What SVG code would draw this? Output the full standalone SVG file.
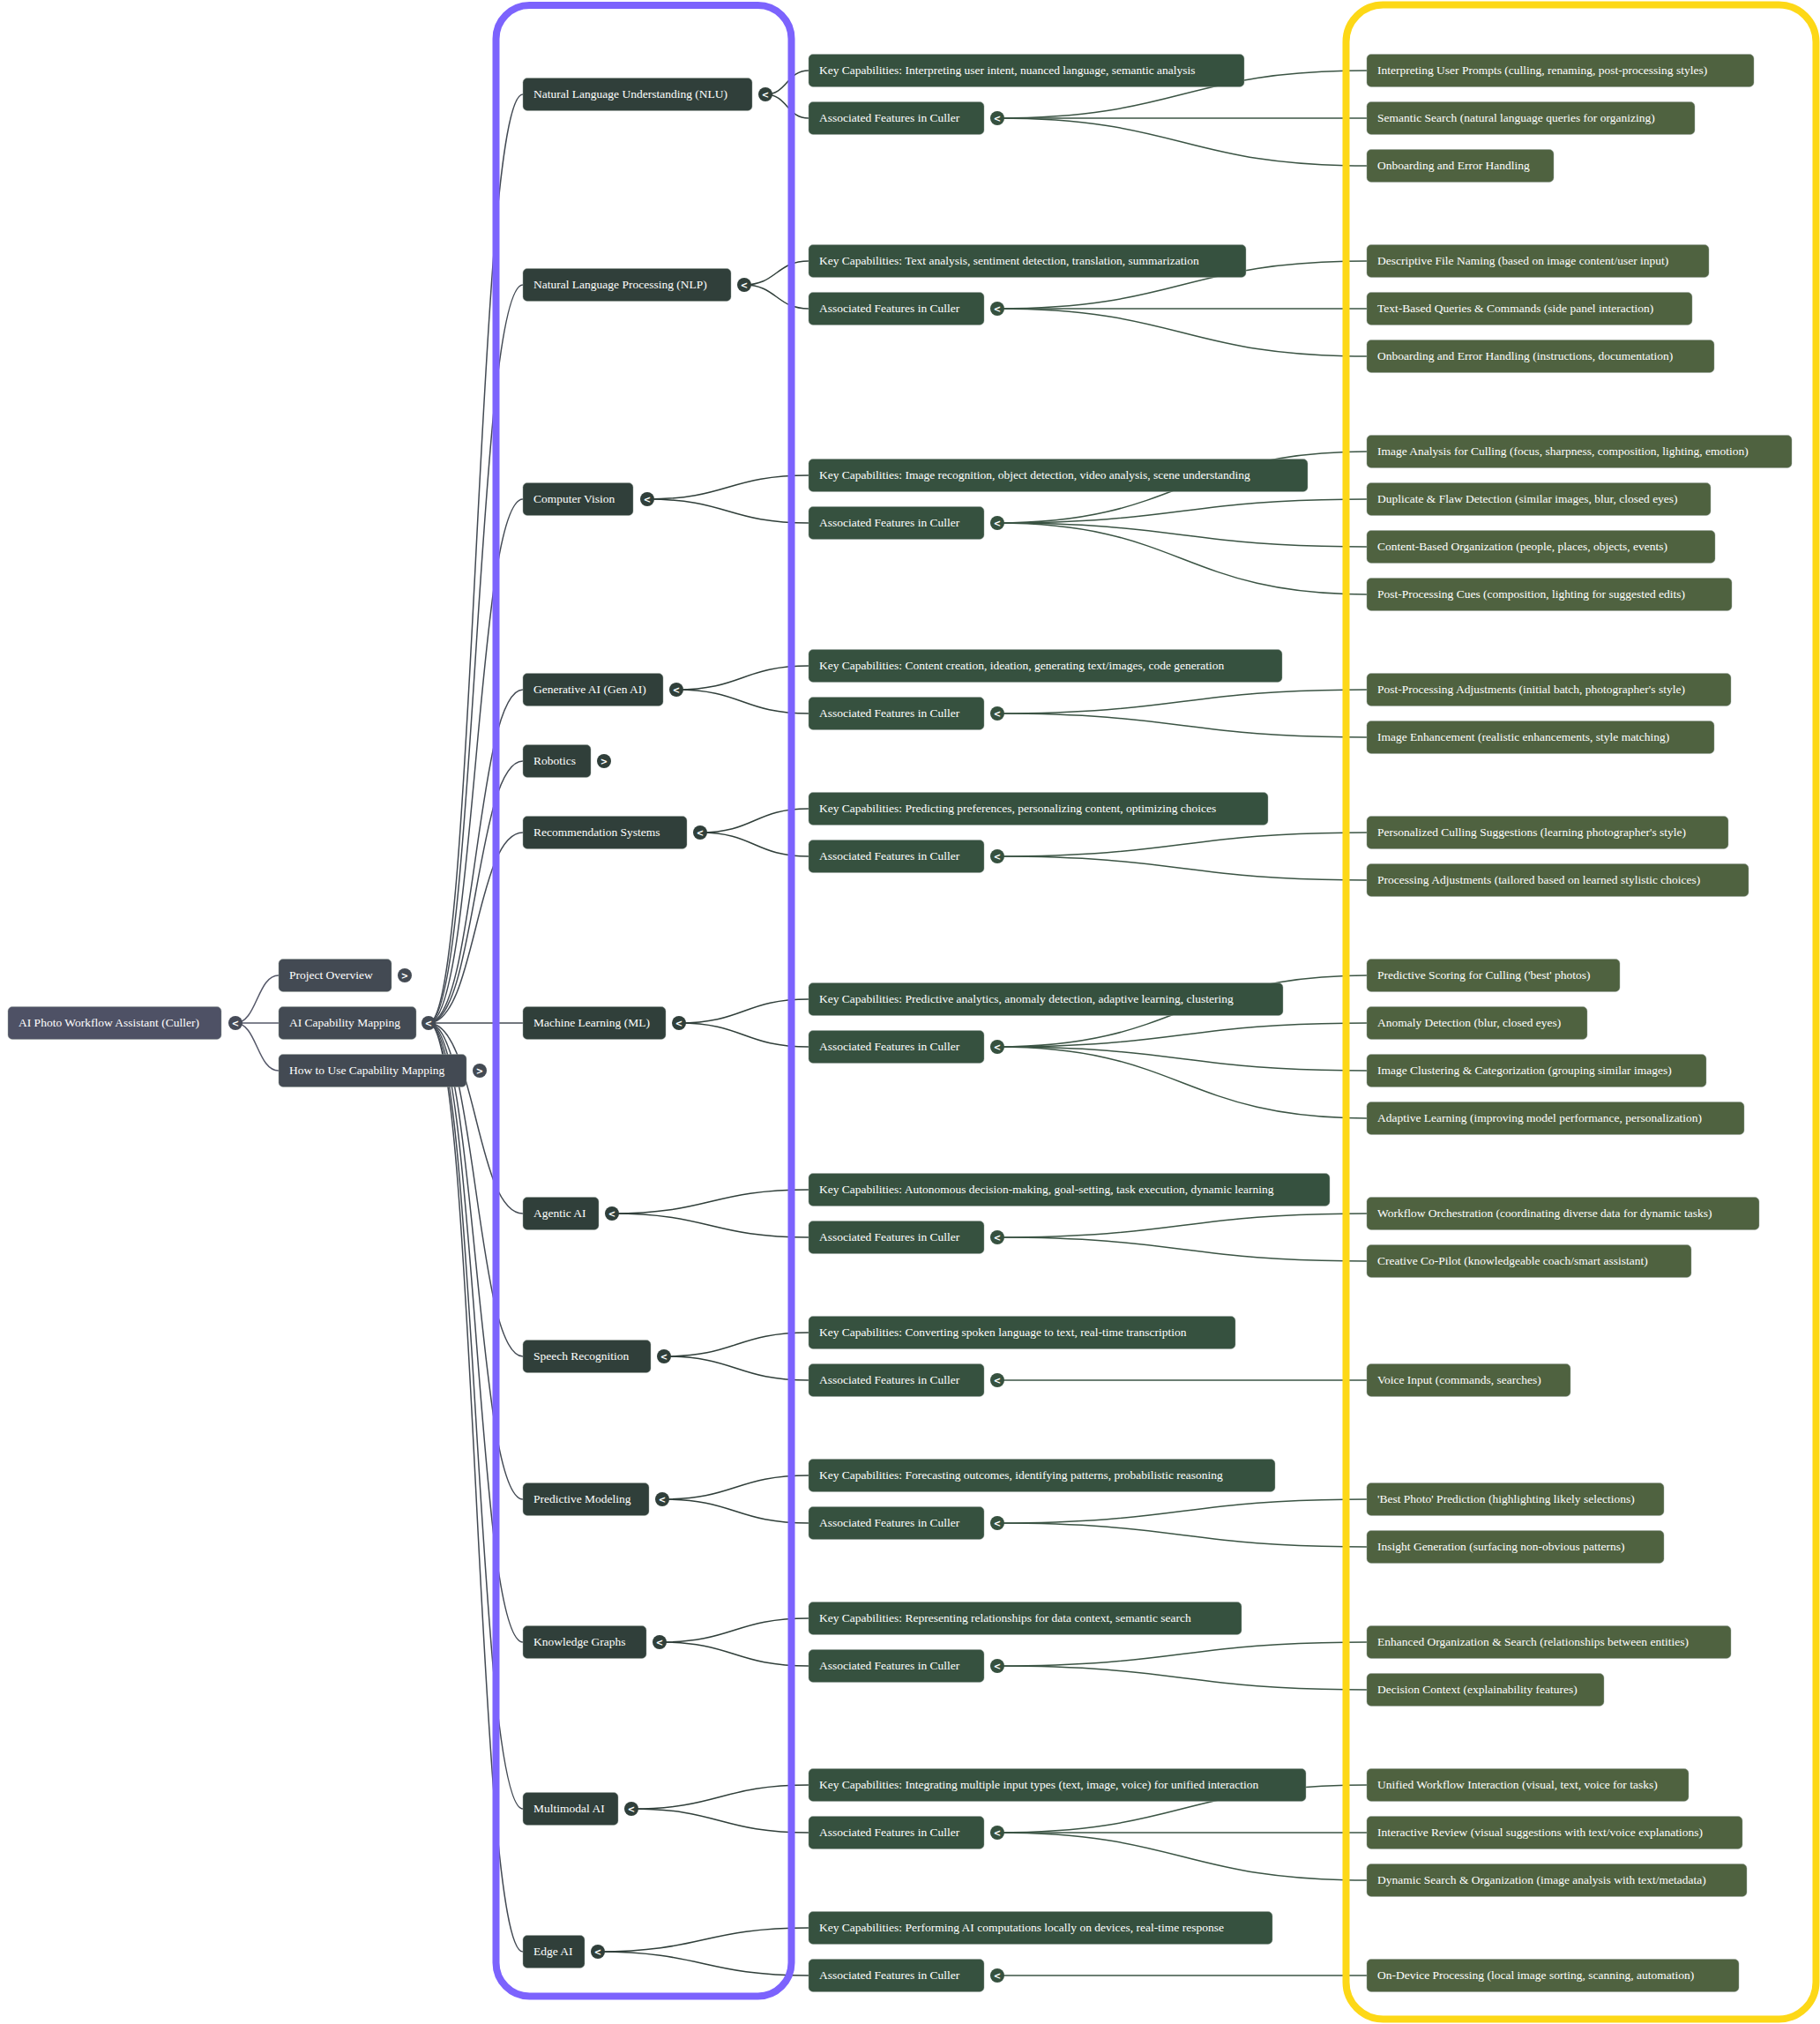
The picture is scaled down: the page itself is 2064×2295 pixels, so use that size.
<svg xmlns="http://www.w3.org/2000/svg" width="2064" height="2295" viewBox="0 0 2064 2295">
<style>
.bg{fill:#ffffff}
.nd rect{stroke:#9aa39e;stroke-opacity:.45;stroke-width:1}
.r0{fill:#4e5165}
.r1{fill:#434a53}
.r2{fill:#303f3a}
.r3{fill:#36513f}
.r4{fill:#4f6240}
.t{font-family:"Liberation Serif","Times New Roman",serif;font-size:13.5px;fill:#ffffff}
.ch{font-family:"DejaVu Sans",sans-serif;font-size:10px;font-weight:bold;fill:#ffffff;text-anchor:middle}
.lk path{fill:none;stroke-width:1.5}
.l0{stroke:#555869}
.l1{stroke:#434a53}
.l2{stroke:#303f3a}
.l3{stroke:#3b5444}
.frame{fill:none;stroke-width:8}
</style>
<rect class="bg" x="0" y="0" width="2064" height="2295"/>

<g id="connectors" class="lk">
<path class="l0" d="M267 1160 C291.5 1160 291.5 1106 316 1106"/>
<path class="l0" d="M267 1160 L316 1160"/>
<path class="l0" d="M267 1160 C291.5 1160 291.5 1214 316 1214"/>

<path class="l1" d="M486 1160 C539.5 1160 539.5 107 593 107"/>
<path class="l1" d="M486 1160 C539.5 1160 539.5 323 593 323"/>
<path class="l1" d="M486 1160 C539.5 1160 539.5 566 593 566"/>
<path class="l1" d="M486 1160 C539.5 1160 539.5 782 593 782"/>
<path class="l1" d="M486 1160 C539.5 1160 539.5 863 593 863"/>
<path class="l1" d="M486 1160 C539.5 1160 539.5 944 593 944"/>
<path class="l1" d="M486 1160 L593 1160"/>
<path class="l1" d="M486 1160 C539.5 1160 539.5 1376 593 1376"/>
<path class="l1" d="M486 1160 C539.5 1160 539.5 1538 593 1538"/>
<path class="l1" d="M486 1160 C539.5 1160 539.5 1700 593 1700"/>
<path class="l1" d="M486 1160 C539.5 1160 539.5 1862 593 1862"/>
<path class="l1" d="M486 1160 C539.5 1160 539.5 2051 593 2051"/>
<path class="l1" d="M486 1160 C539.5 1160 539.5 2213 593 2213"/>

<path class="l2" d="M868 107 C892.5 107 892.5 80 917 80"/>
<path class="l2" d="M868 107 C892.5 107 892.5 134 917 134"/>
<path class="l2" d="M844 323 C880.5 323 880.5 296 917 296"/>
<path class="l2" d="M844 323 C880.5 323 880.5 350 917 350"/>
<path class="l2" d="M734 566 C825.5 566 825.5 539 917 539"/>
<path class="l2" d="M734 566 C825.5 566 825.5 593 917 593"/>
<path class="l2" d="M767 782 C842 782 842 755 917 755"/>
<path class="l2" d="M767 782 C842 782 842 809 917 809"/>
<path class="l2" d="M794 944 C855.5 944 855.5 917 917 917"/>
<path class="l2" d="M794 944 C855.5 944 855.5 971 917 971"/>
<path class="l2" d="M770 1160 C843.5 1160 843.5 1133 917 1133"/>
<path class="l2" d="M770 1160 C843.5 1160 843.5 1187 917 1187"/>
<path class="l2" d="M694 1376 C805.5 1376 805.5 1349 917 1349"/>
<path class="l2" d="M694 1376 C805.5 1376 805.5 1403 917 1403"/>
<path class="l2" d="M753 1538 C835 1538 835 1511 917 1511"/>
<path class="l2" d="M753 1538 C835 1538 835 1565 917 1565"/>
<path class="l2" d="M751 1700 C834 1700 834 1673 917 1673"/>
<path class="l2" d="M751 1700 C834 1700 834 1727 917 1727"/>
<path class="l2" d="M748 1862 C832.5 1862 832.5 1835 917 1835"/>
<path class="l2" d="M748 1862 C832.5 1862 832.5 1889 917 1889"/>
<path class="l2" d="M716 2051 C816.5 2051 816.5 2024 917 2024"/>
<path class="l2" d="M716 2051 C816.5 2051 816.5 2078 917 2078"/>
<path class="l2" d="M678 2213 C797.5 2213 797.5 2186 917 2186"/>
<path class="l2" d="M678 2213 C797.5 2213 797.5 2240 917 2240"/>

<path class="l3" d="M1131 134 C1340.5 134 1340.5 80 1550 80"/>
<path class="l3" d="M1131 134 L1550 134"/>
<path class="l3" d="M1131 134 C1340.5 134 1340.5 188 1550 188"/>
<path class="l3" d="M1131 350 C1340.5 350 1340.5 296 1550 296"/>
<path class="l3" d="M1131 350 L1550 350"/>
<path class="l3" d="M1131 350 C1340.5 350 1340.5 404 1550 404"/>
<path class="l3" d="M1131 593 C1340.5 593 1340.5 512 1550 512"/>
<path class="l3" d="M1131 593 C1340.5 593 1340.5 566 1550 566"/>
<path class="l3" d="M1131 593 C1340.5 593 1340.5 620 1550 620"/>
<path class="l3" d="M1131 593 C1340.5 593 1340.5 674 1550 674"/>
<path class="l3" d="M1131 809 C1340.5 809 1340.5 782 1550 782"/>
<path class="l3" d="M1131 809 C1340.5 809 1340.5 836 1550 836"/>
<path class="l3" d="M1131 971 C1340.5 971 1340.5 944 1550 944"/>
<path class="l3" d="M1131 971 C1340.5 971 1340.5 998 1550 998"/>
<path class="l3" d="M1131 1187 C1340.5 1187 1340.5 1106 1550 1106"/>
<path class="l3" d="M1131 1187 C1340.5 1187 1340.5 1160 1550 1160"/>
<path class="l3" d="M1131 1187 C1340.5 1187 1340.5 1214 1550 1214"/>
<path class="l3" d="M1131 1187 C1340.5 1187 1340.5 1268 1550 1268"/>
<path class="l3" d="M1131 1403 C1340.5 1403 1340.5 1376 1550 1376"/>
<path class="l3" d="M1131 1403 C1340.5 1403 1340.5 1430 1550 1430"/>
<path class="l3" d="M1131 1565 L1550 1565"/>
<path class="l3" d="M1131 1727 C1340.5 1727 1340.5 1700 1550 1700"/>
<path class="l3" d="M1131 1727 C1340.5 1727 1340.5 1754 1550 1754"/>
<path class="l3" d="M1131 1889 C1340.5 1889 1340.5 1862 1550 1862"/>
<path class="l3" d="M1131 1889 C1340.5 1889 1340.5 1916 1550 1916"/>
<path class="l3" d="M1131 2078 C1340.5 2078 1340.5 2024 1550 2024"/>
<path class="l3" d="M1131 2078 L1550 2078"/>
<path class="l3" d="M1131 2078 C1340.5 2078 1340.5 2132 1550 2132"/>
<path class="l3" d="M1131 2240 L1550 2240"/>
</g>

<rect class="frame" x="562.5" y="6" width="335" height="2257.5" rx="38" stroke="#7c63fd"/>
<rect class="frame" x="1526.5" y="5.5" width="533" height="2284" rx="42" stroke="#fdd817"/>

<g id="n-root" class="nd"><rect class="r0" x="9" y="1141.5" width="242" height="37" rx="5"/><text class="t" x="21" y="1163.5">AI Photo Workflow Assistant (Culler)</text><circle cx="267" cy="1160" r="8" fill="#464b58"/><text class="ch" x="267" y="1163.6">&lt;</text></g>

<g id="n-overview" class="nd"><rect class="r1" x="316" y="1087.5" width="128" height="37" rx="5"/><text class="t" x="328" y="1109.5">Project Overview</text><circle cx="459" cy="1106" r="8" fill="#434a53"/><text class="ch" x="459" y="1109.6">&gt;</text></g>
<g id="n-mapping" class="nd"><rect class="r1" x="316" y="1141.5" width="156" height="37" rx="5"/><text class="t" x="328" y="1163.5">AI Capability Mapping</text><circle cx="486" cy="1160" r="8" fill="#434a53"/><text class="ch" x="486" y="1163.6">&lt;</text></g>
<g id="n-howto" class="nd"><rect class="r1" x="316" y="1195.5" width="213" height="37" rx="5"/><text class="t" x="328" y="1217.5">How to Use Capability Mapping</text><circle cx="544" cy="1214" r="8" fill="#434a53"/><text class="ch" x="544" y="1217.6">&gt;</text></g>

<g id="n-nlu" class="nd"><rect class="r2" x="593" y="88.5" width="260" height="37" rx="5"/><text class="t" x="605" y="110.5">Natural Language Understanding (NLU)</text><circle cx="868" cy="107" r="8" fill="#303f3a"/><text class="ch" x="868" y="110.6">&lt;</text></g>
<g id="n-nlp" class="nd"><rect class="r2" x="593" y="304.5" width="236" height="37" rx="5"/><text class="t" x="605" y="326.5">Natural Language Processing (NLP)</text><circle cx="844" cy="323" r="8" fill="#303f3a"/><text class="ch" x="844" y="326.6">&lt;</text></g>
<g id="n-cv" class="nd"><rect class="r2" x="593" y="547.5" width="125" height="37" rx="5"/><text class="t" x="605" y="569.5">Computer Vision</text><circle cx="734" cy="566" r="8" fill="#303f3a"/><text class="ch" x="734" y="569.6">&lt;</text></g>
<g id="n-genai" class="nd"><rect class="r2" x="593" y="763.5" width="159" height="37" rx="5"/><text class="t" x="605" y="785.5">Generative AI (Gen AI)</text><circle cx="767" cy="782" r="8" fill="#303f3a"/><text class="ch" x="767" y="785.6">&lt;</text></g>
<g id="n-robotics" class="nd"><rect class="r2" x="593" y="844.5" width="77" height="37" rx="5"/><text class="t" x="605" y="866.5">Robotics</text><circle cx="685" cy="863" r="8" fill="#303f3a"/><text class="ch" x="685" y="866.6">&gt;</text></g>
<g id="n-recsys" class="nd"><rect class="r2" x="593" y="925.5" width="186" height="37" rx="5"/><text class="t" x="605" y="947.5">Recommendation Systems</text><circle cx="794" cy="944" r="8" fill="#303f3a"/><text class="ch" x="794" y="947.6">&lt;</text></g>
<g id="n-ml" class="nd"><rect class="r2" x="593" y="1141.5" width="162" height="37" rx="5"/><text class="t" x="605" y="1163.5">Machine Learning (ML)</text><circle cx="770" cy="1160" r="8" fill="#303f3a"/><text class="ch" x="770" y="1163.6">&lt;</text></g>
<g id="n-agentic" class="nd"><rect class="r2" x="593" y="1357.5" width="86" height="37" rx="5"/><text class="t" x="605" y="1379.5">Agentic AI</text><circle cx="694" cy="1376" r="8" fill="#303f3a"/><text class="ch" x="694" y="1379.6">&lt;</text></g>
<g id="n-speech" class="nd"><rect class="r2" x="593" y="1519.5" width="145" height="37" rx="5"/><text class="t" x="605" y="1541.5">Speech Recognition</text><circle cx="753" cy="1538" r="8" fill="#303f3a"/><text class="ch" x="753" y="1541.6">&lt;</text></g>
<g id="n-predictive" class="nd"><rect class="r2" x="593" y="1681.5" width="143" height="37" rx="5"/><text class="t" x="605" y="1703.5">Predictive Modeling</text><circle cx="751" cy="1700" r="8" fill="#303f3a"/><text class="ch" x="751" y="1703.6">&lt;</text></g>
<g id="n-knowledge" class="nd"><rect class="r2" x="593" y="1843.5" width="140" height="37" rx="5"/><text class="t" x="605" y="1865.5">Knowledge Graphs</text><circle cx="748" cy="1862" r="8" fill="#303f3a"/><text class="ch" x="748" y="1865.6">&lt;</text></g>
<g id="n-multimodal" class="nd"><rect class="r2" x="593" y="2032.5" width="108" height="37" rx="5"/><text class="t" x="605" y="2054.5">Multimodal AI</text><circle cx="716" cy="2051" r="8" fill="#303f3a"/><text class="ch" x="716" y="2054.6">&lt;</text></g>
<g id="n-edge" class="nd"><rect class="r2" x="593" y="2194.5" width="70" height="37" rx="5"/><text class="t" x="605" y="2216.5">Edge AI</text><circle cx="678" cy="2213" r="8" fill="#303f3a"/><text class="ch" x="678" y="2216.6">&lt;</text></g>

<g id="n-nlu-key" class="nd"><rect class="r3" x="917" y="61.5" width="494" height="37" rx="5"/><text class="t" x="929" y="83.5">Key Capabilities: Interpreting user intent, nuanced language, semantic analysis</text></g>
<g id="n-nlu-feat" class="nd"><rect class="r3" x="917" y="115.5" width="199" height="37" rx="5"/><text class="t" x="929" y="137.5">Associated Features in Culler</text><circle cx="1131" cy="134" r="8" fill="#36513f"/><text class="ch" x="1131" y="137.6">&lt;</text></g>
<g id="n-nlp-key" class="nd"><rect class="r3" x="917" y="277.5" width="496" height="37" rx="5"/><text class="t" x="929" y="299.5">Key Capabilities: Text analysis, sentiment detection, translation, summarization</text></g>
<g id="n-nlp-feat" class="nd"><rect class="r3" x="917" y="331.5" width="199" height="37" rx="5"/><text class="t" x="929" y="353.5">Associated Features in Culler</text><circle cx="1131" cy="350" r="8" fill="#36513f"/><text class="ch" x="1131" y="353.6">&lt;</text></g>
<g id="n-cv-key" class="nd"><rect class="r3" x="917" y="520.5" width="566" height="37" rx="5"/><text class="t" x="929" y="542.5">Key Capabilities: Image recognition, object detection, video analysis, scene understanding</text></g>
<g id="n-cv-feat" class="nd"><rect class="r3" x="917" y="574.5" width="199" height="37" rx="5"/><text class="t" x="929" y="596.5">Associated Features in Culler</text><circle cx="1131" cy="593" r="8" fill="#36513f"/><text class="ch" x="1131" y="596.6">&lt;</text></g>
<g id="n-genai-key" class="nd"><rect class="r3" x="917" y="736.5" width="537" height="37" rx="5"/><text class="t" x="929" y="758.5">Key Capabilities: Content creation, ideation, generating text/images, code generation</text></g>
<g id="n-genai-feat" class="nd"><rect class="r3" x="917" y="790.5" width="199" height="37" rx="5"/><text class="t" x="929" y="812.5">Associated Features in Culler</text><circle cx="1131" cy="809" r="8" fill="#36513f"/><text class="ch" x="1131" y="812.6">&lt;</text></g>
<g id="n-recsys-key" class="nd"><rect class="r3" x="917" y="898.5" width="521" height="37" rx="5"/><text class="t" x="929" y="920.5">Key Capabilities: Predicting preferences, personalizing content, optimizing choices</text></g>
<g id="n-recsys-feat" class="nd"><rect class="r3" x="917" y="952.5" width="199" height="37" rx="5"/><text class="t" x="929" y="974.5">Associated Features in Culler</text><circle cx="1131" cy="971" r="8" fill="#36513f"/><text class="ch" x="1131" y="974.6">&lt;</text></g>
<g id="n-ml-key" class="nd"><rect class="r3" x="917" y="1114.5" width="538" height="37" rx="5"/><text class="t" x="929" y="1136.5">Key Capabilities: Predictive analytics, anomaly detection, adaptive learning, clustering</text></g>
<g id="n-ml-feat" class="nd"><rect class="r3" x="917" y="1168.5" width="199" height="37" rx="5"/><text class="t" x="929" y="1190.5">Associated Features in Culler</text><circle cx="1131" cy="1187" r="8" fill="#36513f"/><text class="ch" x="1131" y="1190.6">&lt;</text></g>
<g id="n-agentic-key" class="nd"><rect class="r3" x="917" y="1330.5" width="591" height="37" rx="5"/><text class="t" x="929" y="1352.5">Key Capabilities: Autonomous decision-making, goal-setting, task execution, dynamic learning</text></g>
<g id="n-agentic-feat" class="nd"><rect class="r3" x="917" y="1384.5" width="199" height="37" rx="5"/><text class="t" x="929" y="1406.5">Associated Features in Culler</text><circle cx="1131" cy="1403" r="8" fill="#36513f"/><text class="ch" x="1131" y="1406.6">&lt;</text></g>
<g id="n-speech-key" class="nd"><rect class="r3" x="917" y="1492.5" width="484" height="37" rx="5"/><text class="t" x="929" y="1514.5">Key Capabilities: Converting spoken language to text, real-time transcription</text></g>
<g id="n-speech-feat" class="nd"><rect class="r3" x="917" y="1546.5" width="199" height="37" rx="5"/><text class="t" x="929" y="1568.5">Associated Features in Culler</text><circle cx="1131" cy="1565" r="8" fill="#36513f"/><text class="ch" x="1131" y="1568.6">&lt;</text></g>
<g id="n-predictive-key" class="nd"><rect class="r3" x="917" y="1654.5" width="529" height="37" rx="5"/><text class="t" x="929" y="1676.5">Key Capabilities: Forecasting outcomes, identifying patterns, probabilistic reasoning</text></g>
<g id="n-predictive-feat" class="nd"><rect class="r3" x="917" y="1708.5" width="199" height="37" rx="5"/><text class="t" x="929" y="1730.5">Associated Features in Culler</text><circle cx="1131" cy="1727" r="8" fill="#36513f"/><text class="ch" x="1131" y="1730.6">&lt;</text></g>
<g id="n-knowledge-key" class="nd"><rect class="r3" x="917" y="1816.5" width="491" height="37" rx="5"/><text class="t" x="929" y="1838.5">Key Capabilities: Representing relationships for data context, semantic search</text></g>
<g id="n-knowledge-feat" class="nd"><rect class="r3" x="917" y="1870.5" width="199" height="37" rx="5"/><text class="t" x="929" y="1892.5">Associated Features in Culler</text><circle cx="1131" cy="1889" r="8" fill="#36513f"/><text class="ch" x="1131" y="1892.6">&lt;</text></g>
<g id="n-multimodal-key" class="nd"><rect class="r3" x="917" y="2005.5" width="564" height="37" rx="5"/><text class="t" x="929" y="2027.5">Key Capabilities: Integrating multiple input types (text, image, voice) for unified interaction</text></g>
<g id="n-multimodal-feat" class="nd"><rect class="r3" x="917" y="2059.5" width="199" height="37" rx="5"/><text class="t" x="929" y="2081.5">Associated Features in Culler</text><circle cx="1131" cy="2078" r="8" fill="#36513f"/><text class="ch" x="1131" y="2081.6">&lt;</text></g>
<g id="n-edge-key" class="nd"><rect class="r3" x="917" y="2167.5" width="526" height="37" rx="5"/><text class="t" x="929" y="2189.5">Key Capabilities: Performing AI computations locally on devices, real-time response</text></g>
<g id="n-edge-feat" class="nd"><rect class="r3" x="917" y="2221.5" width="199" height="37" rx="5"/><text class="t" x="929" y="2243.5">Associated Features in Culler</text><circle cx="1131" cy="2240" r="8" fill="#36513f"/><text class="ch" x="1131" y="2243.6">&lt;</text></g>

<g id="leaf-nlu-1" class="nd"><rect class="r4" x="1550" y="61.5" width="439" height="37" rx="5"/><text class="t" x="1562" y="83.5">Interpreting User Prompts (culling, renaming, post-processing styles)</text></g>
<g id="leaf-nlu-2" class="nd"><rect class="r4" x="1550" y="115.5" width="372" height="37" rx="5"/><text class="t" x="1562" y="137.5">Semantic Search (natural language queries for organizing)</text></g>
<g id="leaf-nlu-3" class="nd"><rect class="r4" x="1550" y="169.5" width="212" height="37" rx="5"/><text class="t" x="1562" y="191.5">Onboarding and Error Handling</text></g>
<g id="leaf-nlp-1" class="nd"><rect class="r4" x="1550" y="277.5" width="388" height="37" rx="5"/><text class="t" x="1562" y="299.5">Descriptive File Naming (based on image content/user input)</text></g>
<g id="leaf-nlp-2" class="nd"><rect class="r4" x="1550" y="331.5" width="369" height="37" rx="5"/><text class="t" x="1562" y="353.5">Text-Based Queries &amp; Commands (side panel interaction)</text></g>
<g id="leaf-nlp-3" class="nd"><rect class="r4" x="1550" y="385.5" width="394" height="37" rx="5"/><text class="t" x="1562" y="407.5">Onboarding and Error Handling (instructions, documentation)</text></g>
<g id="leaf-cv-1" class="nd"><rect class="r4" x="1550" y="493.5" width="482" height="37" rx="5"/><text class="t" x="1562" y="515.5">Image Analysis for Culling (focus, sharpness, composition, lighting, emotion)</text></g>
<g id="leaf-cv-2" class="nd"><rect class="r4" x="1550" y="547.5" width="390" height="37" rx="5"/><text class="t" x="1562" y="569.5">Duplicate &amp; Flaw Detection (similar images, blur, closed eyes)</text></g>
<g id="leaf-cv-3" class="nd"><rect class="r4" x="1550" y="601.5" width="395" height="37" rx="5"/><text class="t" x="1562" y="623.5">Content-Based Organization (people, places, objects, events)</text></g>
<g id="leaf-cv-4" class="nd"><rect class="r4" x="1550" y="655.5" width="414" height="37" rx="5"/><text class="t" x="1562" y="677.5">Post-Processing Cues (composition, lighting for suggested edits)</text></g>
<g id="leaf-genai-1" class="nd"><rect class="r4" x="1550" y="763.5" width="413" height="37" rx="5"/><text class="t" x="1562" y="785.5">Post-Processing Adjustments (initial batch, photographer's style)</text></g>
<g id="leaf-genai-2" class="nd"><rect class="r4" x="1550" y="817.5" width="394" height="37" rx="5"/><text class="t" x="1562" y="839.5">Image Enhancement (realistic enhancements, style matching)</text></g>
<g id="leaf-recsys-1" class="nd"><rect class="r4" x="1550" y="925.5" width="410" height="37" rx="5"/><text class="t" x="1562" y="947.5">Personalized Culling Suggestions (learning photographer's style)</text></g>
<g id="leaf-recsys-2" class="nd"><rect class="r4" x="1550" y="979.5" width="433" height="37" rx="5"/><text class="t" x="1562" y="1001.5">Processing Adjustments (tailored based on learned stylistic choices)</text></g>
<g id="leaf-ml-1" class="nd"><rect class="r4" x="1550" y="1087.5" width="287" height="37" rx="5"/><text class="t" x="1562" y="1109.5">Predictive Scoring for Culling ('best' photos)</text></g>
<g id="leaf-ml-2" class="nd"><rect class="r4" x="1550" y="1141.5" width="250" height="37" rx="5"/><text class="t" x="1562" y="1163.5">Anomaly Detection (blur, closed eyes)</text></g>
<g id="leaf-ml-3" class="nd"><rect class="r4" x="1550" y="1195.5" width="385" height="37" rx="5"/><text class="t" x="1562" y="1217.5">Image Clustering &amp; Categorization (grouping similar images)</text></g>
<g id="leaf-ml-4" class="nd"><rect class="r4" x="1550" y="1249.5" width="428" height="37" rx="5"/><text class="t" x="1562" y="1271.5">Adaptive Learning (improving model performance, personalization)</text></g>
<g id="leaf-agentic-1" class="nd"><rect class="r4" x="1550" y="1357.5" width="445" height="37" rx="5"/><text class="t" x="1562" y="1379.5">Workflow Orchestration (coordinating diverse data for dynamic tasks)</text></g>
<g id="leaf-agentic-2" class="nd"><rect class="r4" x="1550" y="1411.5" width="368" height="37" rx="5"/><text class="t" x="1562" y="1433.5">Creative Co-Pilot (knowledgeable coach/smart assistant)</text></g>
<g id="leaf-speech-1" class="nd"><rect class="r4" x="1550" y="1546.5" width="231" height="37" rx="5"/><text class="t" x="1562" y="1568.5">Voice Input (commands, searches)</text></g>
<g id="leaf-predictive-1" class="nd"><rect class="r4" x="1550" y="1681.5" width="337" height="37" rx="5"/><text class="t" x="1562" y="1703.5">'Best Photo' Prediction (highlighting likely selections)</text></g>
<g id="leaf-predictive-2" class="nd"><rect class="r4" x="1550" y="1735.5" width="337" height="37" rx="5"/><text class="t" x="1562" y="1757.5">Insight Generation (surfacing non-obvious patterns)</text></g>
<g id="leaf-knowledge-1" class="nd"><rect class="r4" x="1550" y="1843.5" width="413" height="37" rx="5"/><text class="t" x="1562" y="1865.5">Enhanced Organization &amp; Search (relationships between entities)</text></g>
<g id="leaf-knowledge-2" class="nd"><rect class="r4" x="1550" y="1897.5" width="269" height="37" rx="5"/><text class="t" x="1562" y="1919.5">Decision Context (explainability features)</text></g>
<g id="leaf-multimodal-1" class="nd"><rect class="r4" x="1550" y="2005.5" width="365" height="37" rx="5"/><text class="t" x="1562" y="2027.5">Unified Workflow Interaction (visual, text, voice for tasks)</text></g>
<g id="leaf-multimodal-2" class="nd"><rect class="r4" x="1550" y="2059.5" width="426" height="37" rx="5"/><text class="t" x="1562" y="2081.5">Interactive Review (visual suggestions with text/voice explanations)</text></g>
<g id="leaf-multimodal-3" class="nd"><rect class="r4" x="1550" y="2113.5" width="431" height="37" rx="5"/><text class="t" x="1562" y="2135.5">Dynamic Search &amp; Organization (image analysis with text/metadata)</text></g>
<g id="leaf-edge-1" class="nd"><rect class="r4" x="1550" y="2221.5" width="422" height="37" rx="5"/><text class="t" x="1562" y="2243.5">On-Device Processing (local image sorting, scanning, automation)</text></g>
</svg>
